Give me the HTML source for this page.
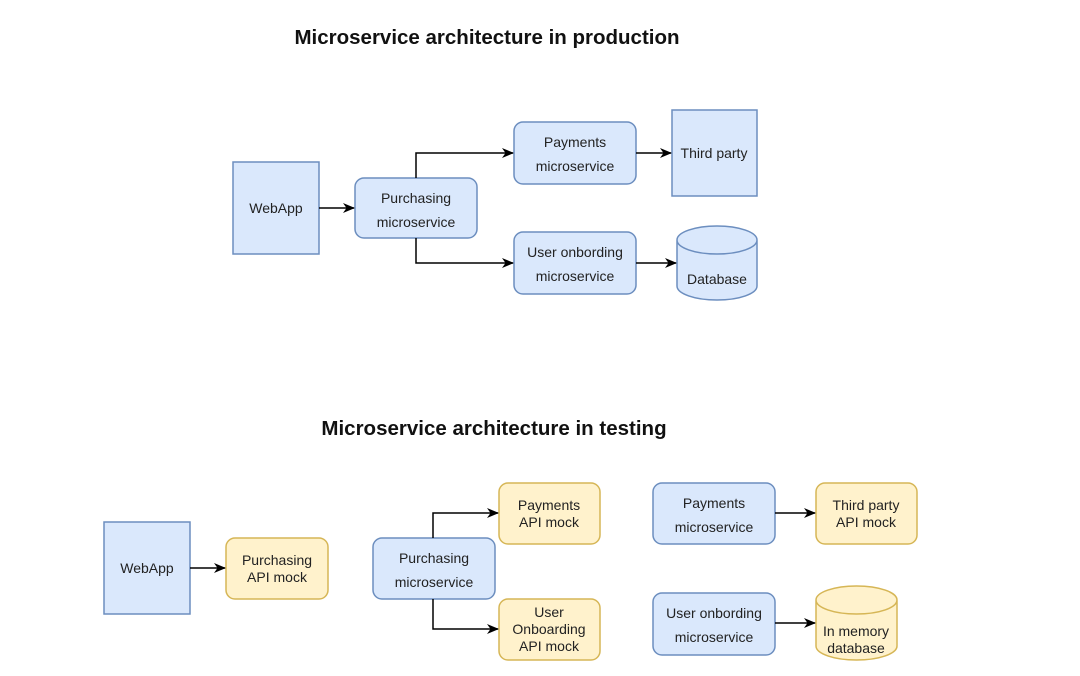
<!DOCTYPE html>
<html><head><style>body{margin:0;background:#fff}</style></head><body>
<svg width="1080" height="671" xmlns="http://www.w3.org/2000/svg" font-family="Liberation Sans, sans-serif" font-size="14" fill="#222">
<defs><marker id="a" markerWidth="12" markerHeight="12" refX="11" refY="6" orient="auto" markerUnits="userSpaceOnUse"><path d="M0,1 L12,6 L0,11 L3.5,6 Z" fill="#000"/></marker></defs>
<text x="487" y="44" text-anchor="middle" font-size="20.5" font-weight="bold" fill="#111">Microservice architecture in production</text>
<text x="494" y="435" text-anchor="middle" font-size="20.5" font-weight="bold" fill="#111">Microservice architecture in testing</text>
<g stroke="#6c8ebf" stroke-width="1.5" fill="#dae8fc">
<rect x="233" y="162" width="86" height="92"/>
<rect x="355" y="178" width="122" height="60" rx="9"/>
<rect x="514" y="122" width="122" height="62" rx="9"/>
<rect x="672" y="110" width="85" height="86"/>
<rect x="514" y="232" width="122" height="62" rx="9"/>
<path d="M677,240 v46 a40,14 0 0 0 80,0 v-46 a40,14 0 0 0 -80,0 a40,14 0 0 0 80,0"/>
<rect x="104" y="522" width="86" height="92"/>
<rect x="373" y="538" width="122" height="61" rx="9"/>
<rect x="653" y="483" width="122" height="61" rx="9"/>
<rect x="653" y="593" width="122" height="62" rx="9"/>
</g>
<g stroke="#d6b656" stroke-width="1.5" fill="#fff2cc">
<rect x="226" y="538" width="102" height="61" rx="9"/>
<rect x="499" y="483" width="101" height="61" rx="9"/>
<rect x="499" y="599" width="101" height="61" rx="9"/>
<rect x="816" y="483" width="101" height="61" rx="9"/>
<path d="M816,600 v46 a40.5,14 0 0 0 81,0 v-46 a40.5,14 0 0 0 -81,0 a40.5,14 0 0 0 81,0"/>
</g>
<g stroke="#000" stroke-width="1.5" fill="none" marker-end="url(#a)">
<path d="M319,208 H354"/>
<path d="M416,178 V153 H513"/>
<path d="M416,238 V263 H513"/>
<path d="M636,153 H671"/>
<path d="M636,263 H676"/>
<path d="M190,568 H225"/>
<path d="M433,538 V513 H498"/>
<path d="M433,599 V629 H498"/>
<path d="M775,513 H815"/>
<path d="M775,623 H815"/>
</g>
<g text-anchor="middle">
<text x="276" y="213">WebApp</text>
<text x="416" y="203">Purchasing</text><text x="416" y="227">microservice</text>
<text x="575" y="147">Payments</text><text x="575" y="171">microservice</text>
<text x="714" y="158">Third party</text>
<text x="575" y="257">User onbording</text><text x="575" y="281">microservice</text>
<text x="717" y="284">Database</text>
<text x="147" y="573">WebApp</text>
<text x="277" y="565">Purchasing</text><text x="277" y="582">API mock</text>
<text x="434" y="563">Purchasing</text><text x="434" y="587">microservice</text>
<text x="549" y="510">Payments</text><text x="549" y="527">API mock</text>
<text x="549" y="617">User</text><text x="549" y="634">Onboarding</text><text x="549" y="651">API mock</text>
<text x="714" y="508">Payments</text><text x="714" y="532">microservice</text>
<text x="866" y="510">Third party</text><text x="866" y="527">API mock</text>
<text x="714" y="618">User onbording</text><text x="714" y="642">microservice</text>
<text x="856" y="636">In memory</text><text x="856" y="653">database</text>
</g>
</svg>
</body></html>
